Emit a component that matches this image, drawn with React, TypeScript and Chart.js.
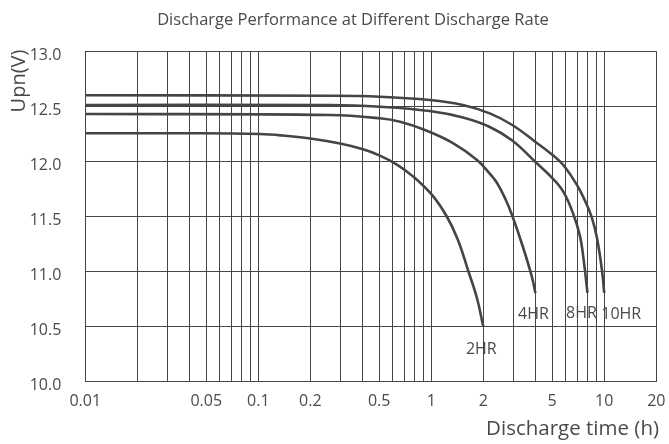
import React, { useEffect, useRef } from 'react';
import { Chart, registerables } from 'chart.js';

Chart.register(...registerables);

// ---- text ----
const titleText = 'Discharge Performance at Different Discharge Rate';
const xAxisTitle = 'Discharge time (h)';
const yAxisTitle = 'Upn(V)';

// ---- axes ----
const xGridValues = [
  0.01, 0.02, 0.03, 0.04, 0.05, 0.06, 0.07, 0.08, 0.09,
  0.1, 0.2, 0.3, 0.4, 0.5, 0.6, 0.7, 0.8, 0.9,
  1, 2, 3, 4, 5, 6, 7, 8, 9,
  10, 20,
];
const xLabelValues = [0.01, 0.05, 0.1, 0.2, 0.5, 1, 2, 5, 10, 20];
const xLabelTexts = ['0.01', '0.05', '0.1', '0.2', '0.5', '1', '2', '5', '10', '20'];
const yMin = 10;
const yMax = 13;
const yStep = 0.5;

// ---- series ----
const seriesNames = ['2HR', '4HR', '8HR', '10HR'];

const hr2Time = [0.01, 0.043, 0.102, 0.135, 0.2, 0.297, 0.403, 0.505, 0.633, 0.784, 1.01, 1.232, 1.427, 1.63, 1.837, 2];
const hr2Volt = [12.255, 12.255, 12.248, 12.236, 12.207, 12.161, 12.109, 12.052, 11.97, 11.863, 11.694, 11.496, 11.285, 11.012, 10.757, 10.496];

const hr4Time = [0.01, 0.26, 0.505, 0.66, 0.92, 1.335, 1.84, 2.184, 2.4, 2.667, 2.93, 3.39, 3.82, 4];
const hr4Volt = [12.43, 12.421, 12.391, 12.36, 12.285, 12.166, 12.012, 11.885, 11.803, 11.666, 11.512, 11.221, 10.948, 10.803];

const hr8Time = [0.01, 0.26, 0.505, 0.98, 1.525, 2.18, 2.94, 3.99, 5.03, 5.8, 6.59, 7.24, 7.63, 8];
const hr8Volt = [12.512, 12.512, 12.496, 12.457, 12.398, 12.312, 12.189, 11.996, 11.845, 11.724, 11.53, 11.32, 11.085, 10.805];

const hr10Time = [0.01, 0.26, 0.505, 0.98, 1.525, 2.18, 2.94, 3.99, 5.03, 5.8, 6.95, 7.94, 8.49, 9.08, 9.7, 10];
const hr10Volt = [12.6, 12.596, 12.587, 12.557, 12.512, 12.436, 12.33, 12.178, 12.057, 11.966, 11.785, 11.603, 11.485, 11.303, 11.012, 10.803];

const seriesTimes = [hr2Time, hr4Time, hr8Time, hr10Time];
const seriesVolts = [hr2Volt, hr4Volt, hr8Volt, hr10Volt];

// label offsets (px) from each curve's end point
const labelOffsetsPx = [
  [-2, 23],
  [-2, 21],
  [-6, 21],
  [17, 21],
];

const FONT = '"Open Sans", "DejaVu Sans", sans-serif';
const TEXT_COLOR = '#4a4a4a';
const LINE_COLOR = '#454545';
const CLEAR = 'rgba(0,0,0,0)';

const textPlugin = {
  id: 'extraTexts',
  afterDraw(chart: any) {
    const ctx = chart.ctx;
    const xs = chart.scales.x;
    const ys = chart.scales.y;
    ctx.save();
    ctx.fillStyle = TEXT_COLOR;
    ctx.textBaseline = 'middle';

    ctx.font = `16.5px ${FONT}`;
    ctx.textAlign = 'center';
    ctx.fillText(titleText, 353, 20);

    ctx.font = `20.5px ${FONT}`;
    ctx.textAlign = 'right';
    ctx.fillText(xAxisTitle, 659, 429);

    ctx.save();
    ctx.translate(19, 81);
    ctx.rotate(-Math.PI / 2);
    ctx.font = `20px ${FONT}`;
    ctx.textAlign = 'center';
    ctx.fillText(yAxisTitle, 0, 0);
    ctx.restore();

    ctx.font = `16px ${FONT}`;
    ctx.textAlign = 'center';
    seriesNames.forEach((name, i) => {
      const t = seriesTimes[i];
      const v = seriesVolts[i];
      const px = xs.getPixelForValue(t[t.length - 1]);
      const py = ys.getPixelForValue(v[v.length - 1]);
      ctx.fillText(name, px + labelOffsetsPx[i][0], py + labelOffsetsPx[i][1]);
    });
    ctx.restore();
  },
};

export default function App() {
  const canvasRef = useRef<HTMLCanvasElement | null>(null);

  useEffect(() => {
    if (!canvasRef.current) return;
    const datasets = seriesNames.map((name, i) => ({
      label: name,
      data: seriesTimes[i].map((t, j) => ({ x: t, y: seriesVolts[i][j] })),
      borderColor: LINE_COLOR,
      borderWidth: 2.6,
      pointRadius: 0,
      fill: false,
      tension: 0.4,
    }));

    const chart = new Chart(canvasRef.current, {
      type: 'line',
      data: { datasets },
      plugins: [textPlugin],
      options: {
        animation: false,
        responsive: false,
        maintainAspectRatio: false,
        layout: { padding: { top: 51.3, right: 12.7, bottom: 0, left: 0 } },
        plugins: {
          legend: { display: false },
          tooltip: { enabled: false },
          title: { display: false },
        },
        scales: {
          x: {
            type: 'logarithmic',
            min: 0.01,
            max: 20,
            afterBuildTicks: (scale: any) => {
              scale.ticks = xGridValues.map((v) => ({ value: v }));
            },
            afterFit: (scale: any) => {
              scale.height = 62.7;
            },
            ticks: {
              autoSkip: false,
              maxRotation: 0,
              minRotation: 0,
              padding: 0,
              color: TEXT_COLOR,
              font: { family: FONT, size: 16 },
              callback: (value: any) => {
                const k = xLabelValues.indexOf(Number(value));
                return k >= 0 ? xLabelTexts[k] : '';
              },
            },
            grid: { color: LINE_COLOR, lineWidth: 1, drawTicks: true, tickLength: 11, tickColor: CLEAR },
            border: { color: LINE_COLOR, width: 1 },
          },
          y: {
            type: 'linear',
            min: yMin,
            max: yMax,
            afterFit: (scale: any) => {
              scale.width = 85.3;
            },
            ticks: {
              stepSize: yStep,
              padding: 0,
              labelOffset: 4,
              color: TEXT_COLOR,
              font: { family: FONT, size: 16 },
              callback: (value: any) => Number(value).toFixed(1),
            },
            grid: { color: LINE_COLOR, lineWidth: 1, drawTicks: true, tickLength: 24, tickColor: CLEAR },
            border: { color: LINE_COLOR, width: 1 },
          },
        },
      },
    });
    return () => chart.destroy();
  }, []);

  return (
    <div style={{ position: 'absolute', left: 0, top: 0, width: 669, height: 444, background: '#fff' }}>
      <canvas ref={canvasRef} width={669} height={444} style={{ display: 'block', width: 669, height: 444 }} />
    </div>
  );
}
